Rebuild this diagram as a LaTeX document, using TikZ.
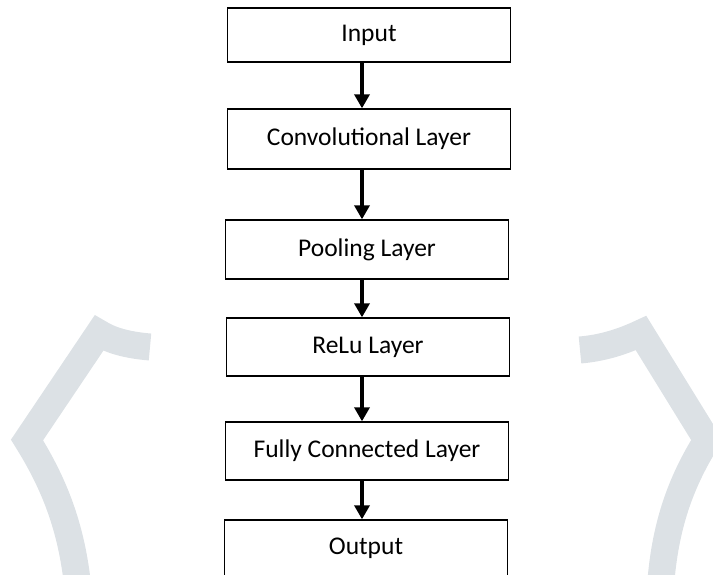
\documentclass[tikz,border=0pt]{standalone}
\usepackage{fontspec}
\setmainfont{Carlito}
\usetikzlibrary{arrows.meta}
\definecolor{bracketgray}{RGB}{220,225,229}

\begin{document}
\begin{tikzpicture}[x=1pt, y=-1pt,
    layerbox/.style={draw, line width=1.4pt, minimum width=283pt, inner sep=0pt, font=\fontsize{25.5}{30}\selectfont},
    flowarrow/.style={line width=3.4pt, -{Triangle[width=15pt, length=14pt]}},
    bracket/.style={draw=bracketgray, line width=27pt, line join=miter}]
    \useasboundingbox (0,0) rectangle (713,574);
    \clip (0,0) rectangle (713,574);

    % The grey brackets in the background
    \draw[bracket] (150,347) .. controls (126,345) and (110,340) .. (99,333) -- (27,440) .. controls (52,480) and (70,522) .. (77,580);
    \draw[bracket] (580,350) .. controls (604,348) and (624,341) .. (641,333) -- (707,440) .. controls (682,480) and (666,522) .. (661,580);

    % The layers, top to bottom
    \node[layerbox, minimum height=54pt] (input) at (369,35) {Input};
    \node[layerbox, minimum height=60pt] (conv) at (369,139) {Convolutional Layer};
    \node[layerbox, minimum height=59pt] (pool) at (367,249.5) {Pooling Layer};
    \node[layerbox, minimum height=58pt] (relu) at (368,347) {ReLu Layer};
    \node[layerbox, minimum height=58pt] (full) at (367,451) {Fully Connected Layer};
    \node[layerbox, minimum height=72pt, text height=18pt, text depth=22pt] (output) at (366,556) {Output};

    % The arrows run down one column
    \coordinate (col) at (362,0);
    \draw[flowarrow] (input.south -| col) -- (conv.north -| col);
    \draw[flowarrow] (conv.south -| col) -- (pool.north -| col);
    \draw[flowarrow] (pool.south -| col) -- (relu.north -| col);
    \draw[flowarrow] (relu.south -| col) -- (full.north -| col);
    \draw[flowarrow] (full.south -| col) -- (output.north -| col);
\end{tikzpicture}
\end{document}
